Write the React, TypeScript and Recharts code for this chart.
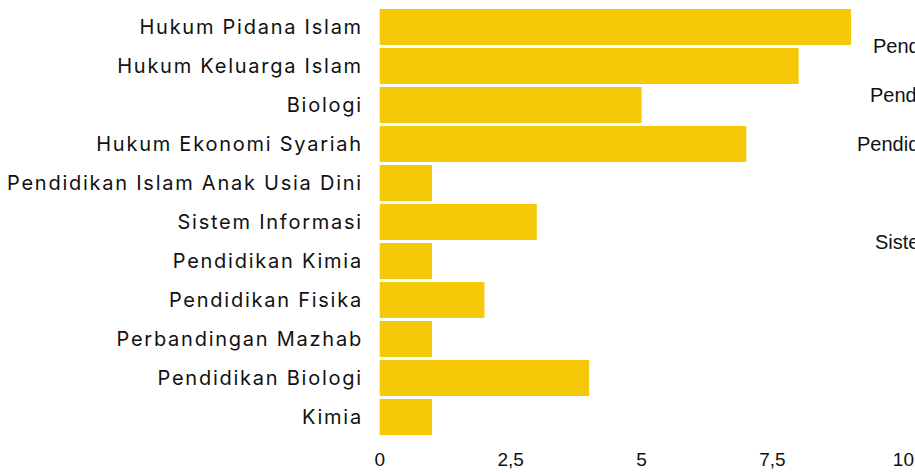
import React from "react";
import { BarChart, Bar, XAxis, YAxis } from "recharts";

const categories = [
  "Hukum Pidana Islam",
  "Hukum Keluarga Islam",
  "Biologi",
  "Hukum Ekonomi Syariah",
  "Pendidikan Islam Anak Usia Dini",
  "Sistem Informasi",
  "Pendidikan Kimia",
  "Pendidikan Fisika",
  "Perbandingan Mazhab",
  "Pendidikan Biologi",
  "Kimia",
];
const values = [9, 8, 5, 7, 1, 3, 1, 2, 1, 4, 1];
const xTicks = [0, 2.5, 5, 7.5, 10];

// labels of a neighbouring chart that are cut off at the right edge
const sideLabels = [
  "Pendidikan Bahasa Arab",
  "Pendidikan Matematika",
  "Pendidikan Agama Islam",
  "Sistem Informasi",
];
const sideLabelX = [873, 870, 857, 875];
const sideLabelBaseline = [53, 102, 151, 249];

const data = categories.map((name, i) => ({ name, value: values[i] }));

const fmt = (v: number) => String(v).replace(".", ",");

export default function App() {
  return (
    <div
      style={{
        position: "absolute",
        left: 0,
        top: 0,
        width: 915,
        height: 473,
        overflow: "hidden",
        background: "#fff",
      }}
    >
      <BarChart
        width={915}
        height={473}
        data={data}
        layout="vertical"
        margin={{ top: 7.5, right: 11.6, bottom: 0, left: 0 }}
        barCategoryGap={1.5}
      >
        <XAxis
          type="number"
          domain={[0, 10]}
          ticks={xTicks}
          tickFormatter={fmt}
          axisLine={false}
          tickLine={false}
          tickSize={0}
          tickMargin={16}
          height={36.5}
          interval={0}
          tick={{ fill: "#111", fontSize: 19, fontFamily: "Liberation Sans, Arial, sans-serif" }}
        />
        <YAxis
          type="category"
          dataKey="name"
          width={379.7}
          axisLine={false}
          tickLine={false}
          tickSize={0}
          tickMargin={16.8}
          interval={0}
          tick={{
            fill: "#111",
            fontSize: 20,
            fontFamily: "Inter, sans-serif",
            letterSpacing: 1.75,
          }}
        />
        <Bar dataKey="value" fill="#F5C908" isAnimationActive={false} />
      </BarChart>
      <svg
        width={915}
        height={473}
        style={{ position: "absolute", left: 0, top: 0, pointerEvents: "none" }}
      >
        {sideLabels.map((t, i) => (
          <text
            key={i}
            x={sideLabelX[i]}
            y={sideLabelBaseline[i]}
            fontSize={20}
            fontFamily="Liberation Sans, Arial, sans-serif"
            fill="#111"
          >
            {t}
          </text>
        ))}
      </svg>
    </div>
  );
}
